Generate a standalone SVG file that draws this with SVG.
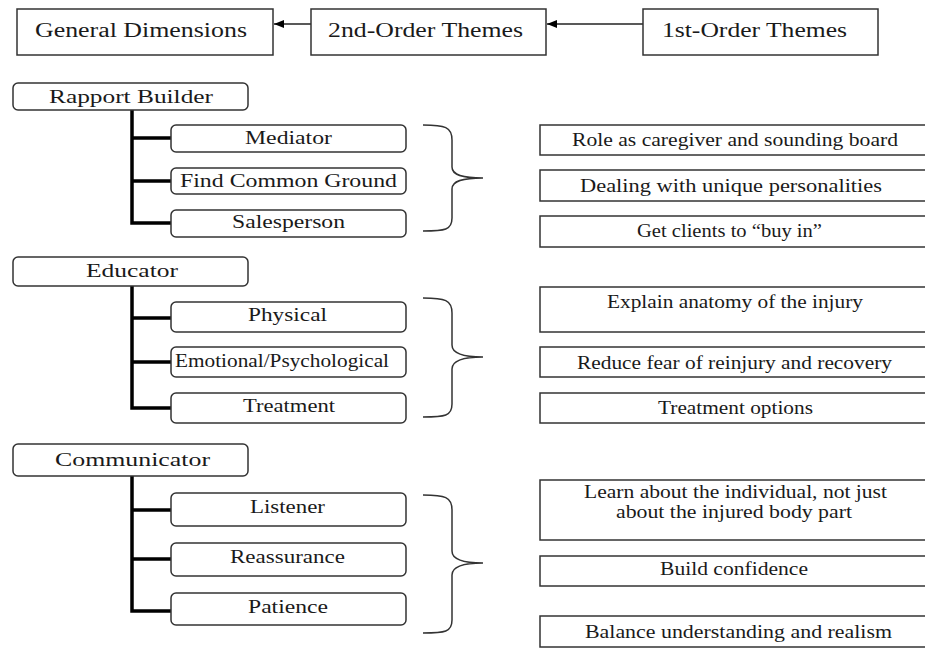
<svg xmlns="http://www.w3.org/2000/svg" width="925" height="651" viewBox="0 0 925 651">
<defs>
<style>
.box{fill:#fff;stroke:#333;stroke-width:1.5}
.tree{fill:none;stroke:#000;stroke-width:3.5}
.brace{fill:none;stroke:#333;stroke-width:1.5}
.arrow{fill:none;stroke:#222;stroke-width:1.5}
text{font-family:"Liberation Serif","Times New Roman",serif;fill:#1a1a1a;font-size:19px}
.h{font-size:20px}
.r{font-size:18px}
</style>
<marker id="ah" markerWidth="10" markerHeight="8" refX="10" refY="4" orient="auto" markerUnits="userSpaceOnUse">
<path d="M0,0 L10,4 L0,8 Z" fill="#000"/>
</marker>
</defs>
<rect width="925" height="651" fill="#fff"/>

<g id="connectors">
<line class="arrow" x1="311" y1="24" x2="274" y2="24" marker-end="url(#ah)"/>
<line class="arrow" x1="643" y1="24" x2="547" y2="24" marker-end="url(#ah)"/>
<path class="tree" d="M132,110 V223 H171 M132,138 H171 M132,181 H171"/>
<path class="tree" d="M132,286 V408 H171 M132,318 H171 M132,362 H171"/>
<path class="tree" d="M132,476 V611 H171 M132,510 H171 M132,559 H171"/>
<path class="brace" d="M423,125 C445,125 452,127 452,140 L452,167 C452,175 462,178 483,178 C462,178 452,181 452,189 L452,218 C452,230 445,231 423,231"/>
<path class="brace" d="M423,298 C445,298 452,300 452,313 L452,345 C452,353 462,357 483,357 C462,357 452,361 452,369 L452,404 C452,416 445,417 423,417"/>
<path class="brace" d="M423,495 C445,495 452,497 452,510 L452,551 C452,559 462,563 483,563 C462,563 452,567 452,575 L452,620 C452,632 445,633 423,633"/>
</g>

<g id="general-dimensions"><rect class="box" x="17" y="9" width="256" height="46"/><text class="h" x="35" y="37" textLength="212" lengthAdjust="spacingAndGlyphs">General Dimensions</text></g>
<g id="second-order"><rect class="box" x="311" y="9" width="235" height="46"/><text class="h" x="328" y="37" textLength="195" lengthAdjust="spacingAndGlyphs">2nd-Order Themes</text></g>
<g id="first-order"><rect class="box" x="643" y="9" width="235" height="46"/><text class="h" x="662" y="37" textLength="185" lengthAdjust="spacingAndGlyphs">1st-Order Themes</text></g>

<g id="rapport-builder"><rect class="box" x="13" y="83" width="235" height="27" rx="5"/><text x="49" y="103" textLength="164" lengthAdjust="spacingAndGlyphs">Rapport Builder</text></g>
<g id="mediator"><rect class="box" x="171" y="125" width="235" height="27" rx="5"/><text x="245" y="144" textLength="87" lengthAdjust="spacingAndGlyphs">Mediator</text></g>
<g id="find-common-ground"><rect class="box" x="171" y="168" width="235" height="26" rx="5"/><text x="180" y="187" textLength="217" lengthAdjust="spacingAndGlyphs">Find Common Ground</text></g>
<g id="salesperson"><rect class="box" x="171" y="210" width="235" height="27" rx="5"/><text x="232" y="228" textLength="113" lengthAdjust="spacingAndGlyphs">Salesperson</text></g>

<g id="educator"><rect class="box" x="13" y="257" width="235" height="29" rx="5"/><text x="86" y="277" textLength="92" lengthAdjust="spacingAndGlyphs">Educator</text></g>
<g id="physical"><rect class="box" x="171" y="302" width="235" height="30" rx="5"/><text x="248" y="321" textLength="79" lengthAdjust="spacingAndGlyphs">Physical</text></g>
<g id="emotional"><rect class="box" x="171" y="347" width="235" height="30" rx="5"/><text x="175" y="367" textLength="214" lengthAdjust="spacingAndGlyphs">Emotional/Psychological</text></g>
<g id="treatment"><rect class="box" x="171" y="393" width="235" height="30" rx="5"/><text x="243" y="412" textLength="92" lengthAdjust="spacingAndGlyphs">Treatment</text></g>

<g id="communicator"><rect class="box" x="13" y="444" width="235" height="32" rx="5"/><text x="55" y="466" textLength="155" lengthAdjust="spacingAndGlyphs">Communicator</text></g>
<g id="listener"><rect class="box" x="171" y="493" width="235" height="33" rx="5"/><text x="250" y="513" textLength="75" lengthAdjust="spacingAndGlyphs">Listener</text></g>
<g id="reassurance"><rect class="box" x="171" y="543" width="235" height="33" rx="5"/><text x="230" y="563" textLength="115" lengthAdjust="spacingAndGlyphs">Reassurance</text></g>
<g id="patience"><rect class="box" x="171" y="593" width="235" height="32" rx="5"/><text x="248" y="613" textLength="80" lengthAdjust="spacingAndGlyphs">Patience</text></g>

<g id="role-caregiver"><rect class="box" x="540" y="125" width="395" height="30"/><text class="r" x="572" y="146" textLength="326" lengthAdjust="spacingAndGlyphs">Role as caregiver and sounding board</text></g>
<g id="unique-personalities"><rect class="box" x="540" y="170" width="395" height="31"/><text class="r" x="580" y="192" textLength="302" lengthAdjust="spacingAndGlyphs">Dealing with unique personalities</text></g>
<g id="buy-in"><rect class="box" x="540" y="216" width="395" height="31"/><text class="r" x="637" y="237" textLength="185" lengthAdjust="spacingAndGlyphs">Get clients to “buy in”</text></g>

<g id="explain-anatomy"><rect class="box" x="540" y="287" width="395" height="45"/><text class="r" x="607" y="308" textLength="256" lengthAdjust="spacingAndGlyphs">Explain anatomy of the injury</text></g>
<g id="reduce-fear"><rect class="box" x="540" y="347" width="395" height="30"/><text class="r" x="577" y="369" textLength="315" lengthAdjust="spacingAndGlyphs">Reduce fear of reinjury and recovery</text></g>
<g id="treatment-options"><rect class="box" x="540" y="393" width="395" height="30"/><text class="r" x="658" y="414" textLength="155" lengthAdjust="spacingAndGlyphs">Treatment options</text></g>

<g id="learn-individual"><rect class="box" x="540" y="480" width="395" height="60"/><text class="r" x="584" y="498" textLength="303" lengthAdjust="spacingAndGlyphs">Learn about the individual, not just</text><text class="r" x="616" y="518" textLength="236" lengthAdjust="spacingAndGlyphs">about the injured body part</text></g>
<g id="build-confidence"><rect class="box" x="540" y="556" width="395" height="30"/><text class="r" x="660" y="575" textLength="148" lengthAdjust="spacingAndGlyphs">Build confidence</text></g>
<g id="balance"><rect class="box" x="540" y="616" width="395" height="31"/><text class="r" x="585" y="638" textLength="307" lengthAdjust="spacingAndGlyphs">Balance understanding and realism</text></g>
</svg>
